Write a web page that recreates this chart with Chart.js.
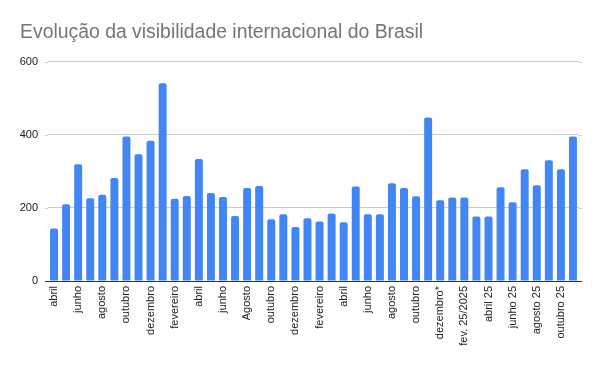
<!DOCTYPE html>
<html>
<head>
<meta charset="utf-8">
<script src="https://cdn.jsdelivr.net/npm/chart.js@4"></script>
<style>
html,body{margin:0;padding:0;background:#fff;}
#wrap{width:600px;height:371px;}
</style>
</head>
<body>
<div id="wrap"><canvas id="c" width="600" height="371"></canvas></div>
<script>
const titleText = "Evolução da visibilidade internacional do Brasil";
const categories = [
  "abril","maio","junho","julho","agosto","setembro","outubro","novembro","dezembro","janeiro",
  "fevereiro","março","abril","maio","junho","julho","Agosto","setembro","outubro","novembro",
  "dezembro","janeiro","fevereiro","março","abril","maio","junho","julho","agosto","setembro",
  "outubro","novembro","dezembro*","janeiro","fev. 25/2025","março","abril 25","maio 25","junho 25","julho 25",
  "agosto 25","setembro 25","outubro 25","novembro 25"
];
const values = [
  144,210,320,227,236,282,396,347,384,542,
  225,233,334,241,230,178,255,260,169,183,
  148,172,163,185,161,259,183,183,268,255,
  232,448,221,229,229,177,177,257,216,306,
  262,331,306,396
];
const yTicks = [0,200,400,600];

const FONT = "'Liberation Sans', Arial, sans-serif";

// extend horizontal gridlines slightly beyond the plot edges, like the reference
const gridExtend = {
  id: 'gridExtend',
  beforeDatasetsDraw(chart) {
    const y = chart.scales.y, a = chart.chartArea, ctx = chart.ctx;
    ctx.save();
    ctx.lineWidth = 1;
    y.ticks.forEach(t => {
      const py = Math.round(y.getPixelForValue(t.value)) + 0.5;
      ctx.strokeStyle = t.value === 0 ? '#333333' : '#cccccc';
      ctx.beginPath();
      ctx.moveTo(a.left - 3, py); ctx.lineTo(a.left, py);
      ctx.moveTo(a.right, py); ctx.lineTo(a.right + 3, py);
      ctx.stroke();
    });
    ctx.restore();
  }
};

new Chart(document.getElementById('c'), {
  type: 'bar',
  data: {
    labels: categories,
    datasets: [{
      data: values,
      backgroundColor: '#4285F4',
      borderRadius: {topLeft: 2, topRight: 2, bottomLeft: 0, bottomRight: 0},
      borderSkipped: 'bottom',
      categoryPercentage: 1,
      barPercentage: 0.66
    }]
  },
  plugins: [gridExtend],
  options: {
    responsive: false,
    animation: false,
    devicePixelRatio: 1,
    layout: {padding: {left: 20, right: 21, top: 0, bottom: 0}},
    plugins: {
      legend: {display: false},
      tooltip: {enabled: false},
      title: {
        display: true,
        text: titleText,
        align: 'start',
        color: '#757575',
        font: {family: FONT, size: 19.4, weight: 'normal', lineHeight: 1.2},
        padding: {top: 21, bottom: 17.7}
      }
    },
    scales: {
      x: {
        grid: {display: false, drawTicks: false},
        border: {display: true, color: '#333333', width: 1},
        ticks: {
          autoSkip: false,
          minRotation: 90,
          maxRotation: 90,
          padding: 5,
          color: '#222222',
          font: {family: FONT, size: 11},
          callback: function(v, i) { return i % 2 === 0 ? categories[i] : ''; }
        },
        afterFit: function(s) { s.height = 90; }
      },
      y: {
        min: 0,
        max: 600,
        afterBuildTicks: function(s) { s.ticks = yTicks.map(v => ({value: v})); },
        grid: {
          drawTicks: false,
          color: function(ctx) { return ctx.tick && ctx.tick.value === 0 ? '#333333' : '#cccccc'; },
          lineWidth: 1
        },
        border: {display: false},
        ticks: {
          padding: 10,
          color: '#222222',
          font: {family: FONT, size: 11}
        },
        afterFit: function(s) { s.width = 28; }
      }
    }
  }
});
</script>
</body>
</html>
